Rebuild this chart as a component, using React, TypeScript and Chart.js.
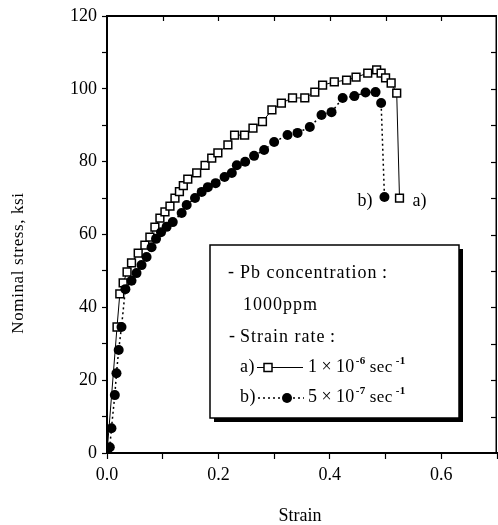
import React, { useEffect, useRef } from "react";
import { Chart, registerables } from "chart.js";

Chart.register(...registerables);

const SERIF = '"Liberation Serif", "DejaVu Serif", "Times New Roman", serif';

// Series a) strain rate 1e-6 /sec (open squares, solid line)
const strainA = [0, 0.018, 0.023, 0.029, 0.036, 0.044, 0.056, 0.068, 0.077, 0.086, 0.095, 0.104, 0.113, 0.122, 0.130, 0.137, 0.145, 0.161, 0.176, 0.188, 0.199, 0.217, 0.229, 0.247, 0.262, 0.279, 0.296, 0.313, 0.333, 0.355, 0.373, 0.387, 0.408, 0.430, 0.447, 0.468, 0.484, 0.492, 0.500, 0.510, 0.520, 0.525];
const stressA = [0, 34.6, 43.7, 46.7, 49.7, 52.2, 54.9, 57.1, 59.3, 62.0, 64.5, 66.2, 67.8, 70.0, 71.8, 73.4, 75.2, 76.9, 79.0, 81.0, 82.4, 84.6, 87.3, 87.3, 89.2, 91.0, 94.2, 96.1, 97.5, 97.5, 99.1, 101.0, 101.9, 102.4, 103.2, 104.3, 105.2, 104.3, 103.0, 101.6, 98.8, 70.0];

// Series b) strain rate 5e-7 /sec (filled circles, dotted line)
const strainB = [0, 0.005, 0.008, 0.014, 0.017, 0.021, 0.026, 0.033, 0.044, 0.053, 0.062, 0.071, 0.080, 0.088, 0.097, 0.107, 0.118, 0.134, 0.143, 0.158, 0.170, 0.181, 0.195, 0.211, 0.224, 0.233, 0.248, 0.264, 0.282, 0.300, 0.324, 0.342, 0.364, 0.385, 0.403, 0.423, 0.444, 0.464, 0.482, 0.492, 0.498];
const stressB = [0, 1.6, 6.8, 15.9, 21.9, 28.3, 34.6, 45.0, 47.3, 49.4, 51.6, 53.8, 56.5, 58.8, 60.6, 62.1, 63.4, 65.9, 68.1, 70.0, 71.7, 73.0, 74.1, 75.8, 76.9, 79.0, 80.0, 81.6, 83.2, 85.4, 87.3, 87.9, 89.5, 92.8, 93.6, 97.5, 98.0, 99.0, 99.1, 96.1, 70.3];

const xMin = 0;
const xMax = 0.7;
const xStep = 0.1;
const yMin = 0;
const yMax = 120;
const yStep = 10;

const xTitle = "Strain";
const yTitle = "Nominal stress, ksi";
const legendLines = ["Pb concentration\u2009:", "1000ppm", "Strain rate\u2009:"];
const seriesLabelA = "a)";
const seriesLabelB = "b)";
const rateA = { mant: "1\u2009\u00d7\u200910", exp: "-6" };
const rateB = { mant: "5\u2009\u00d7\u200910", exp: "-7" };

function toPoints(xs: number[], ys: number[]) {
  return xs.map((x, i) => ({ x, y: ys[i] }));
}

const decorPlugin = {
  id: "decor",
  afterDraw(chart: any) {
    const { ctx, chartArea, scales } = chart;
    const { left, right, top, bottom } = chartArea;
    const xs = scales.x;
    const ys = scales.y;
    ctx.save();
    ctx.strokeStyle = "#000";
    ctx.fillStyle = "#000";

    // top and right frame with inward ticks
    ctx.lineWidth = 2;
    ctx.beginPath();
    ctx.moveTo(left - 1, top);
    ctx.lineTo(right, top);
    ctx.stroke();
    ctx.lineWidth = 1.5;
    ctx.beginPath();
    ctx.moveTo(right - 0.75, top);
    ctx.lineTo(right - 0.75, bottom);
    ctx.stroke();
    ctx.lineWidth = 1.2;
    for (let v = xMin + xStep; v < xMax - 1e-9; v += xStep) {
      const px = Math.round(xs.getPixelForValue(v)) + 0.5;
      ctx.beginPath();
      ctx.moveTo(px, top);
      ctx.lineTo(px, top + 5);
      ctx.stroke();
    }
    for (let v = yMin + yStep; v < yMax - 1e-9; v += yStep) {
      const py = Math.round(ys.getPixelForValue(v)) + 0.5;
      ctx.beginPath();
      ctx.moveTo(right, py);
      ctx.lineTo(right - 6, py);
      ctx.stroke();
    }

    // axis titles
    ctx.font = `18px ${SERIF}`;
    ctx.textAlign = "center";
    ctx.textBaseline = "middle";
    ctx.fillText(xTitle, 300, 516);
    ctx.save();
    ctx.translate(19, 263);
    ctx.rotate(-Math.PI / 2);
    ctx.font = `17px ${SERIF}`;
    (ctx as any).letterSpacing = "0.6px";
    ctx.fillText(yTitle, 0, 0);
    ctx.restore();

    // end labels a) b)
    ctx.font = `18px ${SERIF}`;
    const lastA = xs.getPixelForValue(strainA[strainA.length - 1]);
    const lastAy = ys.getPixelForValue(stressA[stressA.length - 1]);
    const lastB = xs.getPixelForValue(strainB[strainB.length - 1]);
    const lastBy = ys.getPixelForValue(stressB[stressB.length - 1]);
    ctx.textAlign = "left";
    ctx.fillText(seriesLabelA, lastA + 13, lastAy + 3);
    ctx.textAlign = "right";
    ctx.fillText(seriesLabelB, lastB - 12, lastBy + 4);

    // legend box
    const bx = 210, by = 245, bw = 249, bh = 173;
    ctx.fillStyle = "#000";
    ctx.fillRect(bx + 4, by + 4, bw, bh);
    ctx.fillStyle = "#fff";
    ctx.fillRect(bx, by, bw, bh);
    ctx.lineWidth = 1.5;
    ctx.strokeStyle = "#000";
    ctx.strokeRect(bx, by, bw, bh);

    ctx.fillStyle = "#000";
    ctx.textAlign = "left";
    ctx.textBaseline = "middle";
    ctx.font = `18px ${SERIF}`;
    (ctx as any).letterSpacing = "1px";
    ctx.fillText("-", 228, 272);
    ctx.fillText(legendLines[0], 240, 273);
    ctx.fillText(legendLines[1], 243, 305);
    ctx.fillText("-", 229, 336);
    ctx.fillText(legendLines[2], 240, 337);
    (ctx as any).letterSpacing = "0.4px";

    const drawRate = (y: number, r: { mant: string; exp: string }) => {
      ctx.font = `18px ${SERIF}`;
      let x = 308;
      ctx.fillText(r.mant, x, y);
      x += ctx.measureText(r.mant).width + 1;
      ctx.font = `bold 11px ${SERIF}`;
      ctx.fillText(r.exp, x, y - 6);
      x += ctx.measureText(r.exp).width + 4;
      ctx.font = `17px ${SERIF}`;
      ctx.fillText("sec", x, y + 1);
      x += ctx.measureText("sec").width + 3;
      ctx.font = `bold 11px ${SERIF}`;
      ctx.fillText("-1", x, y - 6);
    };

    // a) row
    ctx.font = `18px ${SERIF}`;
    ctx.fillText(seriesLabelA, 240, 367);
    ctx.lineWidth = 1.2;
    ctx.setLineDash([]);
    ctx.beginPath();
    ctx.moveTo(257, 367.5);
    ctx.lineTo(303, 367.5);
    ctx.stroke();
    ctx.fillStyle = "#fff";
    ctx.fillRect(264, 363.5, 8, 8);
    ctx.lineWidth = 1.5;
    ctx.strokeRect(264, 363.5, 8, 8);
    ctx.fillStyle = "#000";
    drawRate(367, rateA);

    // b) row
    ctx.font = `18px ${SERIF}`;
    ctx.fillText(seriesLabelB, 240, 397);
    ctx.lineWidth = 1.5;
    ctx.setLineDash([2, 3]);
    ctx.beginPath();
    ctx.moveTo(258, 398);
    ctx.lineTo(304, 398);
    ctx.stroke();
    ctx.setLineDash([]);
    ctx.beginPath();
    ctx.arc(287, 398, 5, 0, Math.PI * 2);
    ctx.fill();
    drawRate(397, rateB);

    ctx.restore();
  },
};

export default function App() {
  const canvasRef = useRef<HTMLCanvasElement | null>(null);

  useEffect(() => {
    const canvas = canvasRef.current;
    if (!canvas) return;
    const chart = new Chart(canvas, {
      type: "scatter",
      data: {
        datasets: [
          {
            label: "b) 5x10^-7 sec^-1",
            data: toPoints(strainB, stressB),
            showLine: true,
            borderColor: "#000",
            borderWidth: 1.5,
            borderDash: [2, 3],
            backgroundColor: "#000",
            pointStyle: "circle",
            pointRadius: 5,
            pointBorderWidth: 0,
            pointBackgroundColor: "#000",
            order: 0,
          },
          {
            label: "a) 1x10^-6 sec^-1",
            data: toPoints(strainA, stressA),
            showLine: true,
            borderColor: "#000",
            borderWidth: 1,
            backgroundColor: "#fff",
            pointStyle: "rect",
            pointRadius: 5.5,
            pointBorderWidth: 1.5,
            pointBorderColor: "#000",
            pointBackgroundColor: "#fff",
            order: 1,
          },
        ],
      },
      options: {
        responsive: true,
        maintainAspectRatio: false,
        animation: false,
        layout: { autoPadding: false, padding: { top: 16, right: 1, left: 0, bottom: 0 } },
        plugins: {
          legend: { display: false },
          tooltip: { enabled: false },
        },
        scales: {
          x: {
            type: "linear",
            min: xMin,
            max: xMax,
            afterFit: (scale: any) => {
              scale.height = 72;
              scale.paddingRight = 0;
              scale.paddingLeft = 0;
            },
            border: { display: true, color: "#000", width: 2 },
            grid: { drawOnChartArea: false, drawTicks: true, tickLength: 6, tickColor: "#000", tickWidth: 1.2 },
            ticks: {
              stepSize: xStep,
              padding: 5,
              color: "#000",
              font: { family: SERIF, size: 18 },
              maxRotation: 0,
              autoSkip: false,
              callback: (v: any) => {
                const n = Math.round(Number(v) * 10);
                return n % 2 === 0 ? (n / 10).toFixed(1) : "";
              },
            },
          },
          y: {
            type: "linear",
            min: yMin,
            max: yMax,
            afterFit: (scale: any) => {
              scale.width = 107;
              scale.paddingTop = 0;
              scale.paddingBottom = 0;
            },
            border: { display: true, color: "#000", width: 2 },
            grid: { drawOnChartArea: false, drawTicks: true, tickLength: 5, tickColor: "#000", tickWidth: 1.2 },
            ticks: {
              stepSize: yStep,
              padding: 5,
              color: "#000",
              font: { family: SERIF, size: 18 },
              autoSkip: false,
              callback: (v: any) => {
                const n = Math.round(Number(v));
                return n % 20 === 0 ? String(n) : "";
              },
            },
          },
        },
      },
      plugins: [decorPlugin],
    } as any);
    return () => chart.destroy();
  }, []);

  return (
    <div style={{ position: "absolute", left: 0, top: 0, width: 498, height: 525, background: "#fff" }}>
      <canvas ref={canvasRef} style={{ display: "block" }} />
    </div>
  );
}
